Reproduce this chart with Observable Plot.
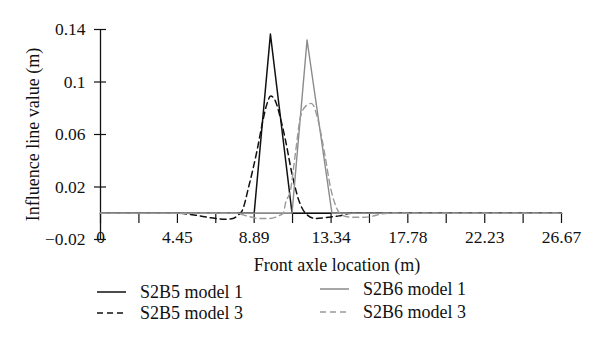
<!DOCTYPE html>
<html>
<head>
<meta charset="utf-8">
<script src="https://cdn.jsdelivr.net/npm/d3@7"></script>
<script src="https://cdn.jsdelivr.net/npm/@observablehq/plot@0.6"></script>
<style>
  body { margin: 0; background: #fff; }
  #wrap { position: relative; width: 600px; height: 346px; font-family: "Liberation Serif", "DejaVu Serif", serif; }
  .item { position: absolute; display: flex; align-items: center; font-size: 18px; color: #111; white-space: nowrap; height: 22px; }
  .item svg { display: block; }
</style>
</head>
<body>
<div id="wrap"></div>
<script>
// ---- data ----
const seriesNames = ["S2B5 model 1", "S2B5 model 3", "S2B6 model 1", "S2B6 model 3"];

const s2b5m1X = [0, 8.89, 9.83, 11.08, 13.34, 26.67];
const s2b5m1Y = [0, 0, 0.1365, 0, 0, 0];

const s2b5m3X = [0, 4.45, 5.5, 6.4, 7.2, 7.6, 8.0, 8.2, 8.57, 9.06, 9.37, 9.6, 9.85, 10.1, 10.4, 10.7, 11.08, 11.47, 11.86, 12.43, 13.2, 13.8, 14.5, 26.67];
const s2b5m3Y = [0, 0, -0.0015, -0.0035, -0.0045, -0.0042, -0.001, 0.002, 0.02, 0.048, 0.069, 0.082, 0.0893, 0.086, 0.073, 0.0557, 0.030, 0.010, 0, -0.004, -0.003, -0.002, 0, 0];

const s2b6m1X = [0, 11.08, 11.95, 13.39, 26.67];
const s2b6m1Y = [0, 0, 0.132, 0, 0];

const s2b6m3X = [0, 7.8, 8.6, 9.2, 9.8, 10.3, 10.58, 10.7, 10.99, 11.28, 11.57, 11.9, 12.2, 12.63, 13.0, 13.3, 13.6, 13.97, 14.55, 15.3, 16.6, 26.67];
const s2b6m3Y = [0, 0, -0.0025, -0.004, -0.004, -0.002, 0, 0.0075, 0.0175, 0.046, 0.0735, 0.082, 0.0837, 0.0685, 0.043, 0.020, 0.006, -0.0015, -0.003, -0.003, 0, 0];

const xTicks = [0, 2.2225, 4.45, 6.67, 8.89, 11.11, 13.34, 15.56, 17.78, 20.0, 22.23, 24.45, 26.67];
const xLabelTicks = [0, 4.45, 8.89, 13.34, 17.78, 22.23, 26.67];
const xLabelText = ["0", "4.45", "8.89", "13.34", "17.78", "22.23", "26.67"];
const yTicks = [-0.02, 0.02, 0.06, 0.1, 0.14];
const yLabelText = ["\u22120.02", "0.02", "0.06", "0.1", "0.14"];

const xTitle = "Front axle location (m)";
const yTitle = "Influence line value (m)";

// ---- build tables ----
const toRows = (xs, ys) => xs.map((x, i) => ({x, y: ys[i]}));
const d5m1 = toRows(s2b5m1X, s2b5m1Y);
const d5m3 = toRows(s2b5m3X, s2b5m3Y);
const d6m1 = toRows(s2b6m1X, s2b6m1Y);
const d6m3 = toRows(s2b6m3X, s2b6m3Y);

const xLab = new Map(xLabelTicks.map((v, i) => [v, xLabelText[i]]));
const yLab = new Map(yTicks.map((v, i) => [v, yLabelText[i]]));

const BLACK = "#111";
const GRAY = "#8a8a8a";
const GRAYD = "#9a9a9a";
const FS_TICK = 17.5;
const FS_TITLE = 18;

const chart = Plot.plot({
  width: 600,
  height: 280,
  marginLeft: 100,
  marginRight: 39,
  marginTop: 29,
  marginBottom: 41,
  style: {fontFamily: "'Liberation Serif', 'DejaVu Serif', serif", fontSize: FS_TICK + "px", color: BLACK, background: "white"},
  x: {domain: [0, 26.67]},
  y: {domain: [-0.02, 0.14]},
  marks: [
    Plot.ruleY([0], {stroke: BLACK, strokeWidth: 1}),
    Plot.ruleX([0], {stroke: BLACK, strokeWidth: 1.3}),
    Plot.axisX({ticks: xTicks, tickSize: 10, dy: -26, tickFormat: () => "", label: null, stroke: BLACK, strokeWidth: 1.2}),
    Plot.axisX({ticks: xLabelTicks, tickSize: 0, tickPadding: 0, dy: -9, tickFormat: d => xLab.get(d), label: null, fontSize: FS_TICK, fill: BLACK}),
    Plot.axisY({ticks: yTicks, tickSize: 12, dx: 6, tickFormat: () => "", label: null, stroke: BLACK, strokeWidth: 1.2}),
    Plot.axisY({ticks: yTicks, tickSize: 0, tickPadding: 15, tickFormat: d => yLab.get(d), label: null, fontSize: FS_TICK, fill: BLACK}),
    Plot.line(d5m1, {x: "x", y: "y", stroke: BLACK, strokeWidth: 1.5}),
    Plot.line(d5m3, {x: "x", y: "y", stroke: BLACK, strokeWidth: 1.5, strokeDasharray: "6,4", curve: "monotone-x"}),
    Plot.line(d6m1, {x: "x", y: "y", stroke: GRAY, strokeWidth: 1.4}),
    Plot.line(d6m3, {x: "x", y: "y", stroke: GRAYD, strokeWidth: 1.4, strokeDasharray: "6,4", curve: "monotone-x"}),
    Plot.text([xTitle], {frameAnchor: "bottom", lineAnchor: "middle", textAnchor: "middle", dy: 26, dx: 6, fontSize: FS_TITLE, fill: BLACK}),
    Plot.text([yTitle], {frameAnchor: "left", textAnchor: "middle", lineAnchor: "middle", dx: -67, rotate: -90, fontSize: FS_TITLE, fill: BLACK})
  ]
});

const wrap = document.getElementById("wrap");
chart.style.position = "absolute";
chart.style.left = "0px";
chart.style.top = "0px";
wrap.appendChild(chart);

// ---- legend (HTML, below the SVG) ----
const legendStyles = [
  {stroke: BLACK, dash: null},
  {stroke: BLACK, dash: "6,4"},
  {stroke: GRAY, dash: null},
  {stroke: GRAYD, dash: "6,4"}
];
const legendPos = [
  {left: 97, cy: 292},
  {left: 97, cy: 313},
  {left: 320, cy: 289},
  {left: 320, cy: 312}
];
seriesNames.forEach((name, i) => {
  const it = document.createElement("div");
  it.className = "item";
  it.style.left = legendPos[i].left + "px";
  it.style.top = (legendPos[i].cy - 11) + "px";
  const st = legendStyles[i];
  it.innerHTML = `<svg width="29" height="10"><line x1="0" x2="29" y1="5" y2="5" stroke="${st.stroke}" stroke-width="1.5" ${st.dash ? `stroke-dasharray="${st.dash}"` : ""}/></svg><span style="margin-left:14px">${name}</span>`;
  wrap.appendChild(it);
});
</script>
</body>
</html>
